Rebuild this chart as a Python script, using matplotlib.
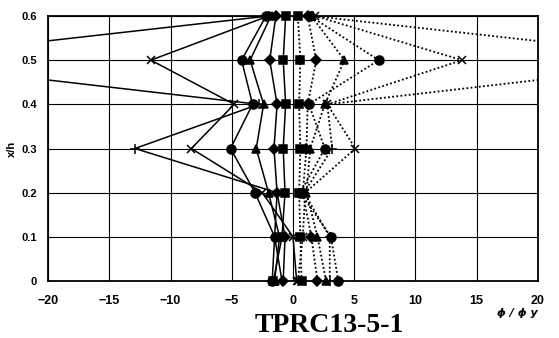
import numpy as np
import matplotlib
matplotlib.use('Agg')
import matplotlib.pyplot as plt

# curvature ratio phi/phi_y along the height, one list per loading peak
heights = [0.0, 0.1, 0.2, 0.3, 0.4, 0.5, 0.6]

neg_diamond = [-0.8, -0.65, -1.3, -1.55, -1.3, -1.9, -1.4]
neg_square = [-1.6, -0.9, -0.65, -0.8, -0.6, -0.8, -0.6]
neg_triangle = [-1.5, -1.1, -2.0, -3.0, -2.4, -3.5, -1.8]
neg_cross = [0.3, 0.0, -2.5, -8.3, -4.8, -11.6, -2.0]
neg_plus = [-0.9, -1.5, -1.3, -12.9, -2.8, -34.0, -2.0]
neg_circle = [-1.7, -1.5, -3.1, -5.1, -3.3, -4.2, -2.2]

pos_diamond = [2.0, 1.5, 0.8, 1.1, 1.2, 1.9, 1.2]
pos_square = [0.7, 0.6, 0.5, 0.6, 0.5, 0.6, 0.4]
pos_triangle = [2.7, 2.0, 1.1, 1.4, 2.6, 4.2, 1.5]
pos_cross = [0.4, 0.8, 1.0, 5.1, 2.8, 13.8, 1.8]
pos_plus = [3.0, 3.0, 0.9, 3.2, 2.8, 34.0, 1.6]
pos_circle = [3.7, 3.1, 0.6, 2.6, 1.3, 7.0, 1.4]

x_ticks = [-20, -15, -10, -5, 0, 5, 10, 15, 20]
y_ticks = [0, 0.1, 0.2, 0.3, 0.4, 0.5, 0.6]

fig = plt.figure(figsize=(5.59, 3.38), dpi=100)
ax = fig.add_axes([0.0859, 0.1686, 0.8765, 0.7841])
ax.set_xlim(-20, 20)
ax.set_ylim(0, 0.6)

# (values, marker, marker size)
neg_series = [(neg_diamond, 'D', 5), (neg_square, 's', 6), (neg_triangle, '^', 6),
              (neg_cross, 'x', 6), (neg_plus, '+', 7), (neg_circle, 'o', 6.5)]
pos_series = [(pos_diamond, 'D', 5), (pos_square, 's', 6), (pos_triangle, '^', 6),
              (pos_cross, 'x', 6), (pos_plus, '+', 7), (pos_circle, 'o', 6.5)]


def draw(series, ls, lw):
    for vals, mk, ms in series:
        vals = np.asarray(vals)
        h = np.asarray(heights)
        # the line is clipped to the frame, markers may sit on the border
        ax.plot(vals, h, color='black', lw=lw, ls=ls, zorder=3)
        inside = np.abs(vals) <= 20
        ax.plot(vals[inside], h[inside], ls='none', marker=mk, ms=ms, mew=1.1,
                mfc='black', mec='black', clip_on=False, zorder=4)


draw(neg_series, '-', 1.1)
draw(pos_series, (0, (1, 1.3)), 1.3)

ax.set_xticks(x_ticks)
ax.set_yticks(y_ticks)
ax.set_xticklabels([str(v).replace('-', '\u2212') for v in x_ticks],
                   fontsize=9, fontweight='bold', family='Liberation Sans')
ax.set_yticklabels(['0'] + ['%.1f' % v for v in y_ticks[1:]],
                   fontsize=8, fontweight='bold', family='Liberation Sans')
ax.tick_params(axis='x', length=0, pad=10)
ax.tick_params(axis='y', length=0, pad=8)
ax.grid(True, color='black', lw=0.8)
ax.set_axisbelow(True)
for sp in ax.spines.values():
    sp.set_linewidth(1.3)

fig.text(0.022, 0.56, 'x/h', rotation=90, fontsize=8, fontweight='bold',
         family='Liberation Sans', ha='center', va='center')
fig.text(0.925, 0.074, '\u03d5 / \u03d5 y', fontsize=8, fontweight='bold',
         style='italic', family='DejaVu Sans', ha='center', va='center')
fig.text(0.59, 0.038, 'TPRC13-5-1', fontsize=20, family='Liberation Serif',
         fontweight='bold', ha='center', va='center')

fig.savefig('out.png', dpi=100)
